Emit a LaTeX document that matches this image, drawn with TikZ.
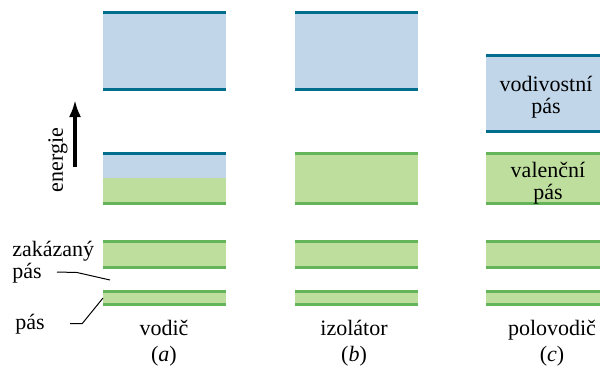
\documentclass[tikz,border=0pt]{standalone}
\usepackage{fontspec}
\setmainfont{Liberation Serif}
\usetikzlibrary{positioning, arrows.meta, fit}
\tikzset{>=latex}
\definecolor{condfill}{RGB}{194,214,234}
\definecolor{condline}{RGB}{0,110,140}
\definecolor{valfill}{RGB}{190,222,158}
\definecolor{valline}{RGB}{100,180,90}

\begin{document}
\begin{tikzpicture}[x=0.5pt, y=-0.5pt,
    font=\fontsize{11}{11}\selectfont,
    band/.style={inner sep=0pt, outer sep=0pt, draw=none},
    cband/.style={band, fill=condfill},
    vband/.style={band, fill=valfill},
    cedge/.style={draw=condline, line width=1.5pt},
    vedge/.style={draw=valline, line width=1.5pt},
    leader/.style={draw=black, line width=0.5pt},
    lbl/.style={inner sep=0pt, align=center}]
    \useasboundingbox (0,0) rectangle (601,371);

    % vodivostni pasy
    \node[cband, fit={(103,12.5) (226,89.5)}] (a1) {};
    \node[cband, fit={(295,12.5) (418,89.5)}] (b1) {};
    \node[cband, fit={(486,55) (600,131.5)}] (c1) {};

    % valencni pasy
    \node[cband, fit={(103,153.5) (226,178)}] (a2) {};
    \node[vband, fit={(103,178) (226,203.5)}] (a2v) {};
    \node[vband, fit={(295,153.5) (418,203.5)}] (b2) {};
    \node[vband, fit={(486,153.5) (600,203.5)}] (c2) {};

    % nizsi pasy
    \foreach \col/\xl/\xr in {a/103/226, b/295/418, c/486/600} {
        \node[vband, fit={(\xl,241.5) (\xr,267.5)}] (\col3) {};
        \node[vband, fit={(\xl,291.5) (\xr,304.5)}] (\col4) {};
    }

    % okraje pasu
    \foreach \n in {a1,b1,c1}
        \draw[cedge] (\n.north west) -- (\n.north east) (\n.south west) -- (\n.south east);
    \draw[cedge] (a2.north west) -- (a2.north east);
    \draw[vedge] (a2v.south west) -- (a2v.south east);
    \foreach \n in {b2,c2,a3,a4,b3,b4,c3,c4}
        \draw[vedge] (\n.north west) -- (\n.north east) (\n.south west) -- (\n.south east);

    % popisky
    \node[lbl] (cond) at (546,97) {vodivostní\\pás};
    \node[lbl] (val) at (548,183) {valenční\\pás};

    \node[lbl, anchor=base] (vodic) at (164,335) {vodič};
    \node[lbl, anchor=base] (izol) at (354,335) {izolátor};
    \node[lbl, anchor=base] (polo) at (552,335) {polovodič};
    \node[lbl, anchor=base] (pa) at ([yshift=-13pt]vodic.base) {(\textit{a})};
    \node[lbl, anchor=base] (pb) at ([yshift=-13pt]izol.base) {(\textit{b})};
    \node[lbl, anchor=base] (pc) at ([yshift=-13pt]polo.base) {(\textit{c})};

    \node[lbl, rotate=90] (energie) at (58,160) {energie};
    \coordinate (arrbot) at (75,167);
    \coordinate (arrtop) at (75,100);
    \draw[line width=1.6pt, -{Latex[length=8.5pt,width=6pt]}] (arrbot) -- (arrtop);

    \node[lbl, align=left, anchor=west] (zak) at (12,262) {zakázaný\\pás};
    \node[lbl, anchor=base west] (pas) at (15,329) {pás};
    \coordinate (zakend) at (57,272);
    \coordinate (gap) at (110,280);
    \draw[leader] (zakend) -- ++(20,0.5) -- (gap);
    \draw[leader] ([xshift=12.5pt]pas.east) -- ++(12,0) -- (a4.west);
\end{tikzpicture}
\end{document}
